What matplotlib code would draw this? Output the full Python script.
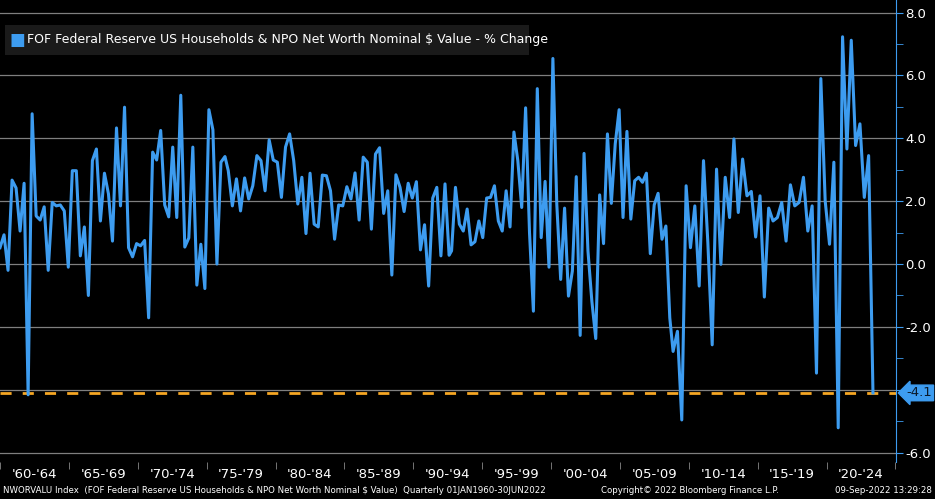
import numpy as np
import matplotlib
matplotlib.use("Agg")
import matplotlib.pyplot as plt
from matplotlib.patches import Rectangle

# Values, in four stretches (roughly quarterly)
seg1 = [0.52,0.93,-0.2,2.67,2.42,1.05,2.57,-4.16,4.78,1.53,1.40,1.82,-0.2,1.96,1.85,1.88,1.69,-0.1,
        2.97,2.97,0.26,1.18,-1.0,3.29,3.66,1.37,2.89,2.23,0.73,4.33,1.85,4.99,0.52,0.23,0.65,0.58,0.75,
        -1.71,3.56,3.31,4.25,1.88,1.50,3.72,1.48,5.37,0.54,0.83,3.72,-0.67,0.63,-0.78,4.91,4.27,0.0,3.24,3.42]
seg2 = [2.97,1.85,2.71,1.69,2.74,2.07,2.49,3.45,3.29,2.33,3.95,3.31,3.24,2.12,3.72,4.14,3.29,1.91,2.76,
        0.97,2.89,1.27,1.18,2.83,2.81,2.33,0.79,1.88,1.85,2.46,2.07,2.90,1.40,3.40,3.24,1.11,3.50,3.70,
        1.61,2.33,-0.35,2.84,2.44,1.67,2.57,2.10,2.62,0.45,1.25,-0.70,2.10,2.44,0.26,2.55,0.28]
seg3 = [0.42,2.44,1.27,1.05,1.75,0.61,0.71,1.37,0.84,2.10,2.12,2.49,1.37,1.05,2.33,1.18,4.20,3.29,1.80,
        4.97,1.00,-1.50,5.58,0.84,2.63,-0.10,6.54,1.91,-0.49,1.78,-1.02,-0.22,2.78,-2.27,3.52,0.42,-1.18,
        -2.37,2.20,0.65,4.14,1.93,3.82,4.91,1.48,4.22,1.43,2.65,2.76,2.60,2.89,0.33,1.88,2.25,0.79,1.21,-1.71]
seg4 = [-2.78,-2.14,-4.96,2.49,0.52,1.85,-0.70,3.29,0.68,-2.57,3.02,-0.01,2.76,1.48,3.98,1.64,3.34,2.17,
        2.31,0.86,2.17,-1.05,1.78,1.37,1.48,1.96,0.73,2.52,1.85,1.96,2.76,1.05,1.85,-3.47,5.90,2.01,0.63,
        3.24,-5.21,7.23,3.66,7.12,3.77,4.46,2.12,3.45,-4.1]
# start / end dates of each stretch (decimal years)
seg_spans = [(1960.00, 1976.33), (1976.57, 1992.60), (1992.78, 2008.62), (2008.86, 2023.37)]
last_value = -4.1
yticks = [8.0, 6.0, 4.0, 2.0, 0.0, -2.0, -4.0, -6.0]
xlabels = ["'60-'64", "'65-'69", "'70-'74", "'75-'79", "'80-'84", "'85-'89", "'90-'94",
           "'95-'99", "'00-'04", "'05-'09", "'10-'14", "'15-'19", "'20-'24"]

segs = [seg1, seg2, seg3, seg4]
x = np.concatenate([np.linspace(a, b, len(s)) for (a, b), s in zip(seg_spans, segs)])
y = np.concatenate(segs)

fig = plt.figure(figsize=(9.35, 4.99), dpi=100, facecolor="black")
ax = fig.add_axes([0.0, 0.074, 0.958, 0.926], facecolor="black")
blue = "#3d9cf0"
ax.plot(x, y, color=blue, lw=2.2, zorder=3)
ax.axhline(last_value, color="#f5a623", lw=2, ls=(0, (4, 4)), zorder=2)
for t in yticks:
    ax.axhline(t, color="#7f7f7f", lw=0.9, zorder=1)
ax.set_ylim(-6.3, 8.4)
ax.set_xlim(1960.0, 1960 + 896 / 13.78)

ax.yaxis.tick_right()
ax.set_yticks(yticks)
ax.set_yticklabels([("" if t == -4.0 else f"{t:.1f}") for t in yticks], color="white", fontsize=9.5)
ax.set_yticks(np.arange(-5, 8, 2.0), minor=True)
ax.tick_params(axis="y", which="both", colors=blue, direction="out", length=5, pad=2,
               labelcolor="white")
ax.set_xticks([1962.5 + 5 * i for i in range(len(xlabels))])
ax.set_xticklabels(xlabels, color="white", fontsize=9.5)
ax.set_xticks([1960 + 5 * i for i in range(14)], minor=True)
ax.tick_params(axis="x", which="major", length=0, pad=4)
ax.tick_params(axis="x", which="minor", length=5, color="#888888")
for s in ["top", "left", "bottom"]:
    ax.spines[s].set_visible(False)
ax.spines["right"].set_color(blue)

ax.text(1.012, (last_value + 6.3) / 14.7, f"{last_value:.1f}", transform=ax.transAxes,
        ha="left", va="center", fontsize=9.5, color="#0a1a2a",
        bbox=dict(boxstyle="larrow,pad=0.1", fc=blue, ec=blue), zorder=5)

ax.add_patch(Rectangle((0.006, 0.881), 0.585, 0.065, transform=ax.transAxes,
                       fc="#1a1a1a", ec="none", zorder=4))
ax.text(0.011, 0.914, "\u25A0", transform=ax.transAxes, color=blue, fontsize=12, va="center", zorder=5)
ax.text(0.03, 0.914, "FOF Federal Reserve US Households & NPO Net Worth Nominal $ Value - % Change",
        transform=ax.transAxes, color="white", fontsize=9, va="center", zorder=5)

fig.text(0.003, 0.012, "NWORVALU Index  (FOF Federal Reserve US Households & NPO Net Worth Nominal $ Value)  Quarterly 01JAN1960-30JUN2022",
         color="white", fontsize=6.2)
fig.text(0.643, 0.012, "Copyright\u00a9 2022 Bloomberg Finance L.P.", color="white", fontsize=6.2)
fig.text(0.997, 0.012, "09-Sep-2022 13:29:28", color="white", fontsize=6.2, ha="right")

fig.savefig("out.png", dpi=100, facecolor="black")
